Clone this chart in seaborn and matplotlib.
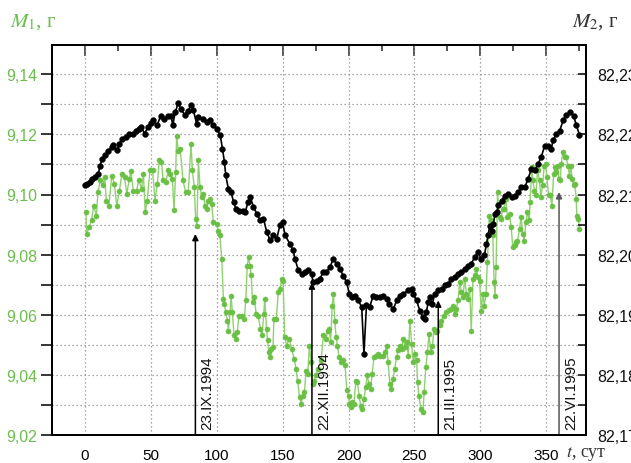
import numpy as np
import pandas as pd
import matplotlib
matplotlib.use("Agg")
import matplotlib.pyplot as plt
from matplotlib.ticker import MultipleLocator, FuncFormatter
import seaborn as sns

# ---------------- data ----------------
# green series: M1 (left axis, g), day t
g_t = [1.1, 1.6, 3.6, 5.3, 7, 9, 10.2, 12, 14, 15.3,
       16.5, 18.5, 20.6, 22.6, 24.4, 26.5, 28.3, 30.3, 32, 34,
       35, 37, 39.5, 41, 43.3, 44.6, 46, 47.5, 49.6, 51.6,
       53.4, 55.2, 56.6, 58.3, 59.6, 61.6, 63.4, 65.1, 66.6, 67.8,
       69.1, 69.8, 71, 72.5, 74.6, 76.6, 78.6, 80.7, 81.7, 83.2,
       84.2, 85.2, 86.3, 87.5, 88.8, 90, 91.3, 92.5, 93.8, 95,
       96.3, 97.6, 100, 101.3, 102.5, 104, 105.2, 106, 107, 108.3,
       109, 110.3, 111, 112, 113.3, 114.6, 115.8, 117, 119.3, 121,
       122.2, 123.3, 124.3, 125.3, 126.3, 127.3, 128.6, 130, 131.5, 133.3,
       134.5, 135.8, 136.6, 137.9, 138.7, 139.7, 140.5, 141.5, 142.8, 143.5,
       145.3, 146.8, 148.1, 149.4, 150.4, 151.7, 153.2, 155, 157, 158.8,
       160.3, 161.4, 162.9, 164.1, 165.4, 166.6, 167.9, 169.1, 170.4, 171.6,
       172.9, 174.1, 175.4, 177.1, 179.2, 181, 183, 184.3, 185.5, 186.5,
       187.6, 188.6, 189.6, 190.6, 191.6, 192.9, 194.4, 196.2, 197.4, 198.7,
       200, 200.7, 201.7, 203, 204.2, 205.5, 206.7, 208, 209.2, 210.5,
       211.7, 213, 214.2, 215.5, 216.7, 218, 219.2, 220.5, 222, 223.8,
       225.8, 227.5, 228.8, 230, 231.3, 232.5, 233.8, 235, 236.4, 237.6,
       238.9, 240.2, 241.5, 242.7, 244, 245.3, 246.5, 247.8, 249, 250.3,
       251.6, 252.3, 253.3, 254.8, 256.3, 257.3, 258.6, 259.8, 261, 262.3,
       263.6, 264.8, 266, 267.3, 269, 270.3, 272.3, 274, 275.9, 277.4,
       279.2, 280.4, 281.7, 283, 284.2, 285.5, 286.7, 288, 289.3, 290.6,
       291.8, 293, 294.3, 295.6, 296.8, 298, 299.3, 300.6, 301.8, 302.9,
       304.2, 305.2, 306.7, 307.8, 309.3, 310.3, 311, 311.8, 312.9, 314.4,
       315.4, 316.7, 317.9, 319.2, 320.4, 322, 323.2, 324.5, 325.8, 327,
       328, 329.6, 330.8, 332.1, 333.1, 334.4, 335.6, 336.9, 337.6, 338.9,
       339.6, 340.9, 341.9, 343.2, 344.7, 345.7, 347, 348.3, 349.3, 350.3,
       351.6, 352.9, 354.1, 355.4, 356.6, 357.4, 358.4, 359.4, 360.4, 361.2,
       362.4, 363.7, 364.9, 366.2, 367.4, 368.4, 369.4, 370.5, 371.5, 372.5,
       373, 374.2, 375]
g_m1 = [9.0942, 9.0869, 9.0892, 9.0914, 9.0963, 9.0930, 9.1008, 9.1047, 9.1030, 9.1058,
        9.0980, 9.0963, 9.1063, 9.1036, 9.0963, 9.1013, 9.1069, 9.1058, 9.1002, 9.1052,
        9.1078, 9.1013, 9.1013, 9.1047, 9.1019, 9.1069, 9.0942, 9.0980, 9.1080, 9.1080,
        9.0980, 9.1036, 9.1113, 9.1108, 9.1047, 9.1041, 9.1080, 9.1069, 9.1052, 9.0947,
        9.1074, 9.1196, 9.1146, 9.1152, 9.1047, 9.1008, 9.1008, 9.1168, 9.1080, 9.1025,
        9.0919, 9.0897, 9.1113, 9.1025, 9.0991, 9.1002, 9.0963, 9.0952, 9.0980, 9.0986,
        9.0969, 9.0908, 9.0903, 9.0880, 9.0864, 9.0786, 9.0653, 9.0637, 9.0609, 9.0581,
        9.0548, 9.0609, 9.0664, 9.0609, 9.0532, 9.0521, 9.0543, 9.0598, 9.0598, 9.0587,
        9.0648, 9.0764, 9.0792, 9.0764, 9.0731, 9.0643, 9.0659, 9.0604, 9.0598, 9.0554,
        9.0532, 9.0604, 9.0653, 9.0554, 9.0515, 9.0476, 9.0460, 9.0487, 9.0493, 9.0587,
        9.0587, 9.0676, 9.0687, 9.0720, 9.0714, 9.0526, 9.0498, 9.0521, 9.0487, 9.0454,
        9.0421, 9.0382, 9.0327, 9.0305, 9.0332, 9.0344, 9.0415, 9.0404, 9.0498, 9.0443,
        9.0371, 9.0382, 9.0399, 9.0421, 9.0449, 9.0532, 9.0521, 9.0548, 9.0554, 9.0510,
        9.0631, 9.0670, 9.0581, 9.0526, 9.0498, 9.0460, 9.0443, 9.0449, 9.0432, 9.0349,
        9.0332, 9.0305, 9.0294, 9.0310, 9.0305, 9.0382, 9.0377, 9.0332, 9.0299, 9.0288,
        9.0321, 9.0360, 9.0399, 9.0371, 9.0354, 9.0404, 9.0460, 9.0465, 9.0471, 9.0465,
        9.0465, 9.0476, 9.0498, 9.0443, 9.0371, 9.0354, 9.0388, 9.0421, 9.0460, 9.0482,
        9.0498, 9.0487, 9.0521, 9.0493, 9.0510, 9.0465, 9.0581, 9.0504, 9.0443, 9.0471,
        9.0449, 9.0377, 9.0332, 9.0288, 9.0277, 9.0344, 9.0427, 9.0476, 9.0537, 9.0476,
        9.0498, 9.0554, 9.0543, 9.0548, 9.0565, 9.0581, 9.0598, 9.0609, 9.0615, 9.0620,
        9.0631, 9.0604, 9.0620, 9.0648, 9.0709, 9.0676, 9.0659, 9.0720, 9.0670, 9.0653,
        9.0687, 9.0548, 9.0720, 9.0731, 9.0753, 9.0726, 9.0714, 9.0614, 9.0670, 9.0631,
        9.0670, 9.0775, 9.0930, 9.0914, 9.0864, 9.0709, 9.0664, 9.0759, 9.1008, 9.0925,
        9.0919, 9.0952, 9.0952, 9.0986, 9.0925, 9.0936, 9.0892, 9.0825, 9.0831, 9.0842,
        9.0847, 9.0886, 9.0925, 9.0869, 9.0847, 9.0908, 9.0942, 9.0914, 9.0975, 9.1091,
        9.1047, 9.1013, 9.0997, 9.1080, 9.1047, 9.0991, 9.1030, 9.1096, 9.1102, 9.1058,
        9.0997, 9.0997, 9.0963, 9.1069, 9.1091, 9.1074, 9.1096, 9.1052, 9.1047, 9.1102,
        9.1141, 9.1124, 9.1124, 9.1096, 9.1063, 9.1096, 9.1052, 9.1030, 9.1036, 9.0986,
        9.0930, 9.0919, 9.0886]

# black series: M2 (right axis, g), day t
b_t = [0, 2, 4, 6, 8, 10.5, 11.7, 13.5, 15.5, 18,
       20.6, 21.8, 24.5, 26.5, 28.5, 31.5, 34, 36.5, 39, 41,
       43, 45.5, 48, 50, 52, 55, 57.6, 60.6, 63, 65.6,
       66.8, 68.8, 71, 73, 76, 78.5, 80.7, 82.5, 85, 86.3,
       90, 92.5, 95, 97.6, 100, 102.8, 104.5, 106, 107, 109,
       111, 113, 114.8, 116.8, 119.8, 121.8, 123.8, 125.6, 128, 130.6,
       133, 135.6, 138, 140.6, 143, 145.6, 148, 150, 152, 155.6,
       158, 159.5, 162, 164.5, 167, 169.5, 172, 173.2, 175.8, 178.3,
       180.8, 183.3, 185.9, 188.4, 191, 193.5, 196, 198.6, 200.6, 202.4,
       205, 207.4, 210, 211.7, 213.6, 216, 218.7, 221, 223.7, 226,
       228.8, 231, 234, 236.5, 239, 241.5, 245.3, 247.8, 249, 251.6,
       254, 256.6, 257.8, 259, 260.4, 261.6, 263.4, 265.4, 268, 270.5,
       273, 275.5, 278, 280.6, 283, 285.6, 288, 290.6, 293, 295.6,
       298, 300.6, 303, 304.5, 305.8, 307, 308.5, 309.8, 311, 312.4,
       313.6, 316, 318.6, 321, 323.6, 326, 328.5, 331, 333.6, 336,
       338.6, 341, 343.6, 346, 348.6, 351, 353.6, 355, 357.5, 360,
       362.6, 365, 368, 370.5, 372.6, 375]
b_m2 = [82.2116, 82.2118, 82.2121, 82.2126, 82.2129, 82.2134, 82.2148, 82.2159, 82.2165, 82.2172,
        82.2179, 82.2183, 82.2174, 82.2184, 82.2193, 82.2196, 82.2201, 82.2201, 82.2205, 82.2209,
        82.2212, 82.2201, 82.2212, 82.2219, 82.2223, 82.2215, 82.2230, 82.2226, 82.2230, 82.2231,
        82.2215, 82.2237, 82.2252, 82.2242, 82.2232, 82.2239, 82.2249, 82.2240, 82.2217, 82.2229,
        82.2226, 82.2221, 82.2223, 82.2215, 82.2209, 82.2199, 82.2176, 82.2154, 82.2132, 82.2109,
        82.2104, 82.2087, 82.2076, 82.2073, 82.2073, 82.2071, 82.2087, 82.2096, 82.2079, 82.2068,
        82.2057, 82.2060, 82.2038, 82.2024, 82.2032, 82.2026, 82.2049, 82.2054, 82.2032, 82.2018,
        82.2007, 82.1993, 82.1974, 82.1968, 82.1971, 82.1974, 82.1968, 82.1954, 82.1957, 82.1960,
        82.1971, 82.1971, 82.1979, 82.1993, 82.1985, 82.1977, 82.1965, 82.1954, 82.1935, 82.1930,
        82.1932, 82.1924, 82.1913, 82.1835, 82.1916, 82.1913, 82.1932, 82.1930, 82.1930, 82.1932,
        82.1927, 82.1918, 82.1910, 82.1924, 82.1932, 82.1935, 82.1941, 82.1943, 82.1935, 82.1924,
        82.1907, 82.1896, 82.1894, 82.1905, 82.1921, 82.1930, 82.1918, 82.1935, 82.1941, 82.1943,
        82.1949, 82.1952, 82.1960, 82.1963, 82.1968, 82.1971, 82.1977, 82.1982, 82.1985, 82.1996,
        82.2004, 82.1993, 82.2000, 82.2018, 82.2033, 82.2047, 82.2039, 82.2051, 82.2068, 82.2071,
        82.2082, 82.2090, 82.2098, 82.2101, 82.2096, 82.2098, 82.2104, 82.2112, 82.2112, 82.2126,
        82.2143, 82.2140, 82.2151, 82.2162, 82.2181, 82.2181, 82.2176, 82.2190, 82.2201, 82.2206,
        82.2223, 82.2232, 82.2237, 82.2231, 82.2215, 82.2199]

# events (day, arrow tip on M1 scale, label)
ev_t = [84, 172.3, 268, 359.5]
ev_tip = [9.0869, 9.0708, 9.0648, 9.1008]
ev_lbl = ["23.IX.1994", "22.XII.1994", "21.III.1995", "22.VI.1995"]

x_ticks = [0, 50, 100, 150, 200, 250, 300, 350]

# ---------------- style ----------------
sns.set_style("white")
plt.rcParams["font.family"] = ["Liberation Sans", "DejaVu Sans"]
plt.rcParams["mathtext.fontset"] = "stix"

GREEN_M = "#6abf45"
GREEN_L = "#8fd16f"
GREEN_T = "#6cbf4c"
GRID = "#8a8a8a"

fig = plt.figure(figsize=(6.31, 4.64), dpi=100)
ax = fig.add_axes([52.3 / 631, (464 - 436.3) / 464, (585.7 - 52.3) / 631, (436.3 - 46) / 464])
ax2 = ax.twinx()

gdf = pd.DataFrame({"t": g_t, "m1": g_m1})
bdf = pd.DataFrame({"t": b_t, "m2": b_m2})

sns.lineplot(data=gdf, x="t", y="m1", ax=ax, estimator=None, sort=False,
             color=GREEN_L, linewidth=1.0, marker="o", markersize=3.7,
             markerfacecolor=GREEN_M, markeredgecolor=GREEN_M, markeredgewidth=0.3,
             zorder=3)
sns.lineplot(data=bdf, x="t", y="m2", ax=ax2, estimator=None, sort=False,
             color="black", linewidth=1.2, marker="o", markersize=4.2,
             markerfacecolor="black", markeredgecolor="black", markeredgewidth=0.3,
             zorder=3)

ax.set_xlim(-24.4, 379.7)
ax.set_ylim(9.02, 9.02 + 390.3 / 3010)
ax2.set_ylim(82.17, 82.17 + 390.3 / 6020)

for a in (ax, ax2):
    a.set_xlabel("")
    a.set_ylabel("")
    for s in a.spines.values():
        s.set_linewidth(1.3)
        s.set_color("black")

comma = FuncFormatter(lambda v, p: f"{v:.2f}".replace(".", ","))

# x axis (bottom, outward)
ax.set_xticks(x_ticks)
ax.xaxis.set_minor_locator(MultipleLocator(25))
ax.tick_params(axis="x", which="major", direction="out", length=7, width=1.1,
               labelsize=11, pad=2, colors="black")
ax.tick_params(axis="x", which="minor", direction="out", length=4, width=1.1)

# top axis (inward ticks only)
sec = ax.secondary_xaxis("top")
sec.set_xticks(x_ticks)
sec.xaxis.set_minor_locator(MultipleLocator(25))
sec.tick_params(axis="x", which="major", direction="in", length=8, width=1.1, labeltop=False)
sec.tick_params(axis="x", which="minor", direction="in", length=4, width=1.1)
sec.spines["top"].set_linewidth(1.3)

# left axis
ax.yaxis.set_major_locator(MultipleLocator(0.02))
ax.yaxis.set_minor_locator(MultipleLocator(0.01))
ax.yaxis.set_major_formatter(comma)
ax.tick_params(axis="y", which="both", direction="out", length=8, width=1.1,
               labelsize=11.5, pad=3, labelcolor=GREEN_T, color="black")

# right axis
ax2.yaxis.set_major_locator(MultipleLocator(0.01))
ax2.yaxis.set_minor_locator(MultipleLocator(0.005))
ax2.yaxis.set_major_formatter(comma)
ax2.tick_params(axis="y", which="both", direction="in", length=6, width=1.1,
                labelsize=11.5, pad=8, labelcolor="#111111", color="black")

# grid
ax.grid(False)
ax2.grid(False)
ax.set_axisbelow(True)
ax.grid(which="major", axis="x", color=GRID, linestyle=(0, (1, 2.2)), linewidth=0.9)
ax.grid(which="both", axis="y", color=GRID, linestyle=(0, (1, 2.2)), linewidth=0.9)

# event arrows and labels
for i, (t, tip, lbl) in enumerate(zip(ev_t, ev_tip, ev_lbl)):
    col = "#555555" if i == 3 else "black"
    ax.annotate("", xy=(t, tip), xytext=(t, 9.02),
                arrowprops=dict(arrowstyle="-|>", color=col, lw=1.1,
                                mutation_scale=9, shrinkA=0, shrinkB=0),
                zorder=4)
    ax.text(t + 4.0, 9.0222, lbl, rotation=90, ha="left", va="bottom",
            fontsize=11, color="#111111", zorder=5)

# axis titles
fig.text(0.016, 0.952, r"$M_1$, г", color=GREEN_T, fontsize=15,
         family=["Liberation Serif", "DejaVu Serif"], ha="left", va="center")
fig.text(0.907, 0.952, r"$M_2$, г", color="#333333", fontsize=15,
         family=["Liberation Serif", "DejaVu Serif"], ha="left", va="center")
fig.text(0.897, 0.022, r"$t$, сут", color="#333333", fontsize=13,
         family=["Liberation Serif", "DejaVu Serif"], ha="left", va="center")

fig.savefig("out.png", dpi=100)
